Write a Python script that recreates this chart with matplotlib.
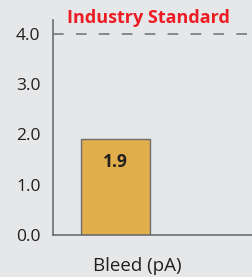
import matplotlib
matplotlib.use("Agg")
from matplotlib import pyplot as plt

categories = ["Bleed (pA)"]
values = [1.9]
standard = 4.0
yticks = [0.0, 1.0, 2.0, 3.0, 4.0]

bg = "#e6e7e8"
gray = "#6d6e70"

plt.rcParams["font.family"] = ["Open Sans", "DejaVu Sans"]

fig = plt.figure(figsize=(2.52, 2.77), dpi=100, facecolor=bg)
ax = fig.add_axes([53 / 252, 1 - 235 / 277, 1 - 53 / 252, 215 / 277])
ax.set_facecolor(bg)

x = list(range(len(categories)))
bars = ax.bar(x, values, width=0.6, color="#e0ae4a", edgecolor=gray, linewidth=1.0, zorder=2)
for b, v in zip(bars, values):
    ax.text(b.get_x() + b.get_width() / 2, v - 0.45, f"{v:.1f}", ha="center", va="center",
            fontsize=12.5, fontweight="bold", color="#231f20")

# industry standard reference line
ax.axhline(standard, color=gray, linestyle=(0, (7, 8)), linewidth=1.1, zorder=1)
ax.text(0.283, 4.3, "Industry Standard", color="#ed1c24", fontsize=13, fontweight="bold",
        ha="center", va="center")

ax.set_xlim(-0.543, 1.187)
ax.set_ylim(0, 4.27)
ax.set_yticks(yticks)
ax.set_yticklabels([f"{t:.1f}" for t in yticks], fontsize=12.5, color="#231f20")
ax.tick_params(axis="y", length=0, pad=9)
ax.set_xticks([])

for side in ["top", "right"]:
    ax.spines[side].set_visible(False)
for side in ["left", "bottom"]:
    ax.spines[side].set_color(gray)
    ax.spines[side].set_linewidth(1.2)

fig.text(137 / 252, 1 - 266 / 277, categories[0], ha="center", va="center",
         fontsize=13.5, color="#231f20")

fig.savefig("out.png", dpi=100, facecolor=bg)
